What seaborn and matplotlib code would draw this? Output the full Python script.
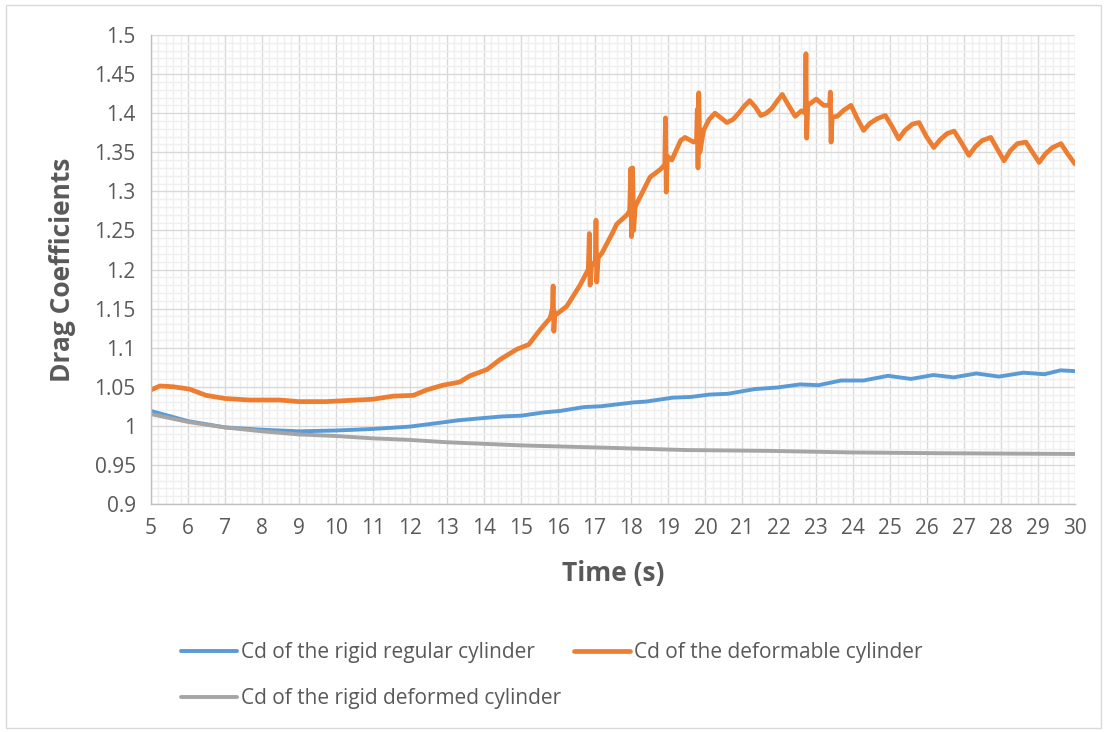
import matplotlib
matplotlib.use("Agg")
import matplotlib.pyplot as plt
from matplotlib.patches import Rectangle
from matplotlib.ticker import MultipleLocator
import seaborn as sns

# Time (s) and drag coefficient values
t_regular = [5.0, 6.0, 7.0, 8.0, 9.0, 10.0, 11.0, 12.0, 12.83, 13.3, 14.0, 14.5, 15.02, 15.6,
             16.06, 16.72, 17.17, 18.06, 18.39, 19.11, 19.61, 20.11, 20.61, 21.33, 21.94,
             22.56, 23.06, 23.67, 24.28, 24.94, 25.56, 26.17, 26.72, 27.33, 27.94, 28.61,
             29.17, 29.61, 30.0]
cd_regular = [1.019, 1.006, 0.998, 0.995, 0.993, 0.994, 0.996, 0.999, 1.004, 1.007, 1.010, 1.012,
              1.013, 1.017, 1.019, 1.024, 1.025, 1.030, 1.031, 1.036, 1.037, 1.040, 1.041,
              1.047, 1.049, 1.053, 1.052, 1.058, 1.058, 1.064, 1.060, 1.065, 1.062, 1.067,
              1.063, 1.068, 1.066, 1.071, 1.070]

t_deformable = [5.0, 5.24, 5.6, 6.04, 6.49, 7.0, 7.67, 8.48, 9.0, 9.74, 10.55, 11.0, 11.55, 12.1,
                12.46, 12.9, 13.35, 13.63, 14.09, 14.45, 14.9, 15.22, 15.53, 15.8,
                15.86, 15.88, 15.9, 15.93, 15.98, 16.25, 16.61, 16.83,
                16.86, 16.88, 16.92, 17.02, 17.04, 17.06, 17.1, 17.2, 17.5, 17.6, 17.88, 17.95,
                17.98, 18.0, 18.03, 18.06, 18.1, 18.15, 18.5, 18.78,
                18.9, 18.92, 18.94, 18.97, 19.09, 19.33, 19.45, 19.68,
                19.76, 19.78, 19.8, 19.82, 19.85, 19.95, 20.1, 20.26, 20.42, 20.58, 20.75,
                20.92, 21.05, 21.2, 21.35, 21.5, 21.65, 21.8, 21.95, 22.08, 22.25, 22.43,
                22.6, 22.7, 22.72, 22.74, 22.77, 23.0, 23.2,
                23.36, 23.38, 23.4, 23.43, 23.57, 23.75, 23.94, 24.1, 24.28, 24.45, 24.65,
                24.87, 25.05, 25.23, 25.4, 25.6, 25.78, 25.98, 26.18, 26.35, 26.54, 26.73,
                26.93, 27.13, 27.3, 27.49, 27.72, 27.9, 28.08, 28.25, 28.44, 28.67, 28.85,
                29.03, 29.2, 29.39, 29.62, 29.8, 30.0]
cd_deformable = [1.046, 1.051, 1.050, 1.047, 1.039, 1.035, 1.033, 1.033, 1.031, 1.031, 1.033,
                 1.034, 1.038, 1.039, 1.046, 1.052, 1.056, 1.064, 1.072, 1.085, 1.098, 1.104,
                 1.123, 1.138,
                 1.150, 1.179, 1.121, 1.145, 1.143, 1.153, 1.180, 1.200,
                 1.246, 1.180, 1.205, 1.210, 1.263, 1.184, 1.215, 1.221, 1.248, 1.258, 1.270,
                 1.275,
                 1.329, 1.242, 1.330, 1.250, 1.280, 1.285, 1.318, 1.328,
                 1.334, 1.394, 1.299, 1.345, 1.340, 1.365, 1.369, 1.363,
                 1.365, 1.405, 1.330, 1.426, 1.350, 1.378, 1.392, 1.400, 1.394, 1.388, 1.392,
                 1.401, 1.409, 1.416, 1.408, 1.397, 1.400, 1.406, 1.416, 1.424, 1.410, 1.396,
                 1.403, 1.400, 1.476, 1.368, 1.410, 1.418, 1.410,
                 1.410, 1.427, 1.363, 1.395, 1.396, 1.404, 1.410, 1.394, 1.378, 1.387, 1.393,
                 1.397, 1.383, 1.367, 1.378, 1.386, 1.388, 1.370, 1.356, 1.366, 1.374, 1.377,
                 1.362, 1.346, 1.357, 1.365, 1.369, 1.354, 1.339, 1.352, 1.361, 1.363, 1.350,
                 1.337, 1.348, 1.356, 1.361, 1.348, 1.335]

t_deformed = [5.0, 6.0, 7.0, 8.0, 9.0, 10.0, 11.0, 12.0, 13.0, 15.0, 17.3, 19.5, 21.7, 23.9,
              26.2, 30.0]
cd_deformed = [1.015, 1.005, 0.998, 0.993, 0.989, 0.987, 0.984, 0.982, 0.979, 0.975, 0.972,
               0.969, 0.968, 0.966, 0.965, 0.964]

labels = ["Cd of the rigid regular cylinder", "Cd of the deformable cylinder",
          "Cd of the rigid deformed cylinder"]
colors = ["#5B9BD5", "#ED7D31", "#A5A5A5"]

sns.set_style("white")
plt.rcParams['font.family'] = ['Open Sans', 'DejaVu Sans']
text_color = "#595959"

W, H = 1107, 732
fig = plt.figure(figsize=(W / 100, H / 100), dpi=100)
ax = fig.add_axes([151 / W, 1 - 504 / H, (1075 - 151) / W, (504 - 35) / H])

# chart area border
fig.patches.append(Rectangle((6 / W, 4 / H), (1101 - 6) / W, (727 - 4) / H,
                             transform=fig.transFigure, fill=False,
                             edgecolor="#d9d9d9", linewidth=1.0))

sns.lineplot(x=t_regular, y=cd_regular, ax=ax, color=colors[0], linewidth=2.8,
             label=labels[0], estimator=None, sort=False)
sns.lineplot(x=t_deformable, y=cd_deformable, ax=ax, color=colors[1], linewidth=3.4,
             label=labels[1], estimator=None, sort=False)
sns.lineplot(x=t_deformed, y=cd_deformed, ax=ax, color=colors[2], linewidth=2.8,
             label=labels[2], estimator=None, sort=False)
for ln in ax.lines:
    ln.set_solid_joinstyle("round")
    ln.set_solid_capstyle("round")

ax.set_xlim(5, 30)
ax.set_ylim(0.9, 1.5)
ax.xaxis.set_major_locator(MultipleLocator(1))
ax.xaxis.set_minor_locator(MultipleLocator(0.2))
ax.yaxis.set_major_locator(MultipleLocator(0.05))
ax.yaxis.set_minor_locator(MultipleLocator(0.01))
ax.set_yticks([round(0.9 + 0.05 * i, 2) for i in range(13)])
ax.set_yticklabels(["%g" % round(0.9 + 0.05 * i, 2) for i in range(13)])

ax.grid(which="minor", color="#efefef", linewidth=1.0)
ax.grid(which="major", color="#d9d9d9", linewidth=1.0)
ax.set_axisbelow(True)

for side in ["top", "right"]:
    ax.spines[side].set_visible(False)
for side in ["left", "bottom"]:
    ax.spines[side].set_color("#bfbfbf")
    ax.spines[side].set_linewidth(1.0)

ax.tick_params(axis="both", which="major", labelsize=15, labelcolor=text_color,
               color="#bfbfbf", length=6, width=1.0, direction="out", pad=5)
ax.tick_params(axis="both", which="minor", length=0)
ax.tick_params(axis="x", which="major", direction="inout", length=8, pad=6)

ax.set_xlabel("Time (s)", fontsize=19, fontweight="bold", color=text_color)
ax.set_ylabel("Drag Coefficients", fontsize=19, fontweight="bold", color=text_color)
ax.xaxis.set_label_coords(0.5, (504 - 560) / 469)
ax.yaxis.set_label_coords((76 - 151) / 924, 0.5)

handles, labs = ax.get_legend_handles_labels()
order = [0, 2, 1]
ax.legend([handles[i] for i in order], [labs[i] for i in order], ncol=2,
          loc="upper left", bbox_to_anchor=(181 / W, 1 - 642 / H),
          bbox_transform=fig.transFigure, frameon=False, fontsize=15,
          labelcolor=text_color, handlelength=2.7, handletextpad=0.2,
          columnspacing=0.6, labelspacing=1.2, borderpad=0, borderaxespad=0)

fig.savefig("out.png", dpi=100)
